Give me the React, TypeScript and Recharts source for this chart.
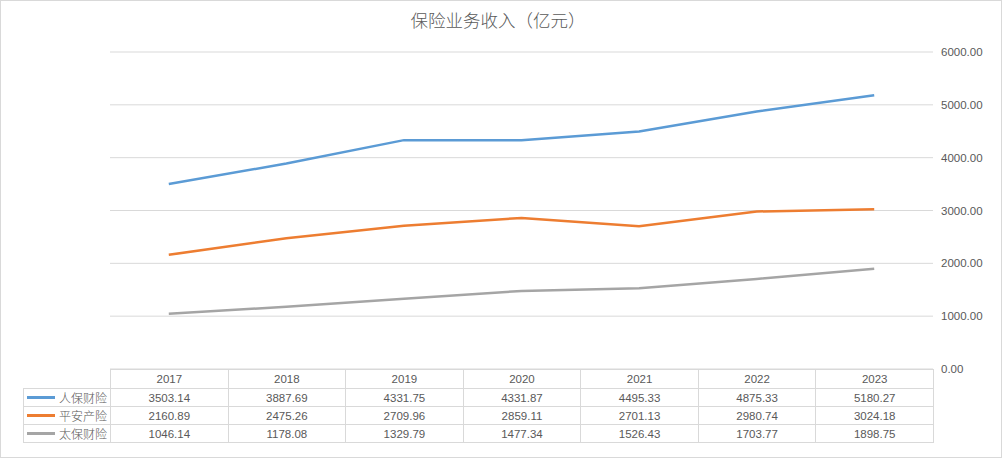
import { LineChart, Line, XAxis, YAxis, CartesianGrid } from "recharts"

const years = ["2017", "2018", "2019", "2020", "2021", "2022", "2023"]
const renbao = [3503.14, 3887.69, 4331.75, 4331.87, 4495.33, 4875.33, 5180.27]
const pingan = [2160.89, 2475.26, 2709.96, 2859.11, 2701.13, 2980.74, 3024.18]
const taibao = [1046.14, 1178.08, 1329.79, 1477.34, 1526.43, 1703.77, 1898.75]
const yTicks = [0, 1000, 2000, 3000, 4000, 5000, 6000]

const series = [
  { key: "renbao", name: "人保财险", color: "#5B9BD5", values: renbao },
  { key: "pingan", name: "平安产险", color: "#ED7D31", values: pingan },
  { key: "taibao", name: "太保财险", color: "#A5A5A5", values: taibao },
]

const data = years.map((year, i) => ({
  year,
  renbao: renbao[i],
  pingan: pingan[i],
  taibao: taibao[i],
}))

const FONT = '"Liberation Sans", Arial, "Noto Sans CJK SC", sans-serif'
const TEXT = "#595959"
const BORDER = "#d9d9d9"

// plot area in page pixels
const PLOT_LEFT = 110
const PLOT_RIGHT = 933
const PLOT_TOP = 52
const PLOT_BOTTOM = 369
const COL_W = (PLOT_RIGHT - PLOT_LEFT) / years.length

export default function App() {
  const cell: React.CSSProperties = {
    border: `1px solid ${BORDER}`,
    padding: 0,
    textAlign: "center",
    fontSize: 11.5,
    color: TEXT,
    fontFamily: FONT,
    lineHeight: "16px",
  }

  return (
    <div style={{ position: "absolute", left: 0, top: 0, width: 1004, height: 459, background: "#fff" }}>
      <div
        style={{
          position: "absolute",
          left: 0,
          top: 0,
          width: 1002,
          height: 458,
          border: `1px solid ${BORDER}`,
          boxSizing: "border-box",
        }}
      />
      <div
        style={{
          position: "absolute",
          left: 0,
          top: 7,
          width: 996,
          textAlign: "center",
          fontSize: 17.5,
          color: TEXT,
          fontFamily: '"Noto Sans CJK SC", sans-serif',
          fontWeight: 300,
        }}
      >
        保险业务收入（亿元）
      </div>

      <div style={{ position: "absolute", left: 0, top: 0 }}>
        <LineChart
          width={1004}
          height={459}
          data={data}
          margin={{ top: PLOT_TOP, left: PLOT_LEFT, bottom: 459 - PLOT_BOTTOM, right: 1004 - PLOT_RIGHT - 60 }}
        >
          <CartesianGrid stroke={BORDER} vertical={false} />
          <XAxis
            dataKey="year"
            hide
            padding={{ left: COL_W / 2, right: COL_W / 2 }}
          />
          <YAxis
            orientation="right"
            width={60}
            domain={[0, 6000]}
            ticks={yTicks}
            axisLine={false}
            tickLine={false}
            tickFormatter={(v: number) => v.toFixed(2)}
            tick={{ fill: TEXT, fontSize: 11.5, fontFamily: FONT }}
          />
          {series.map((s) => (
            <Line
              key={s.key}
              type="linear"
              dataKey={s.key}
              name={s.name}
              stroke={s.color}
              strokeWidth={2.5}
              dot={false}
              isAnimationActive={false}
            />
          ))}
        </LineChart>
      </div>

      {/* data table under the plot */}
      <table
        style={{
          position: "absolute",
          left: 23,
          top: PLOT_BOTTOM,
          borderCollapse: "collapse",
          tableLayout: "fixed",
          width: PLOT_RIGHT - 23 + 1,
        }}
      >
        <colgroup>
          <col style={{ width: PLOT_LEFT - 23 }} />
          {years.map((y) => (
            <col key={y} style={{ width: COL_W }} />
          ))}
        </colgroup>
        <tbody>
          <tr style={{ height: 19 }}>
            <td style={{ ...cell, border: "none" }} />
            {years.map((y) => (
              <td key={y} style={cell}>
                {y}
              </td>
            ))}
          </tr>
          {series.map((s) => (
            <tr key={s.key} style={{ height: 18 }}>
              <td style={{ ...cell, textAlign: "left", whiteSpace: "nowrap" }}>
                <span
                  style={{
                    display: "inline-block",
                    width: 28,
                    height: 3,
                    background: s.color,
                    verticalAlign: "middle",
                    marginLeft: 3,
                    marginRight: 4,
                  }}
                />
                <span style={{ fontFamily: '"Noto Sans CJK SC", sans-serif', fontWeight: 300, fontSize: 12, verticalAlign: "middle" }}>
                  {s.name}
                </span>
              </td>
              {s.values.map((v, i) => (
                <td key={i} style={cell}>
                  {v.toFixed(2)}
                </td>
              ))}
            </tr>
          ))}
        </tbody>
      </table>
    </div>
  )
}
